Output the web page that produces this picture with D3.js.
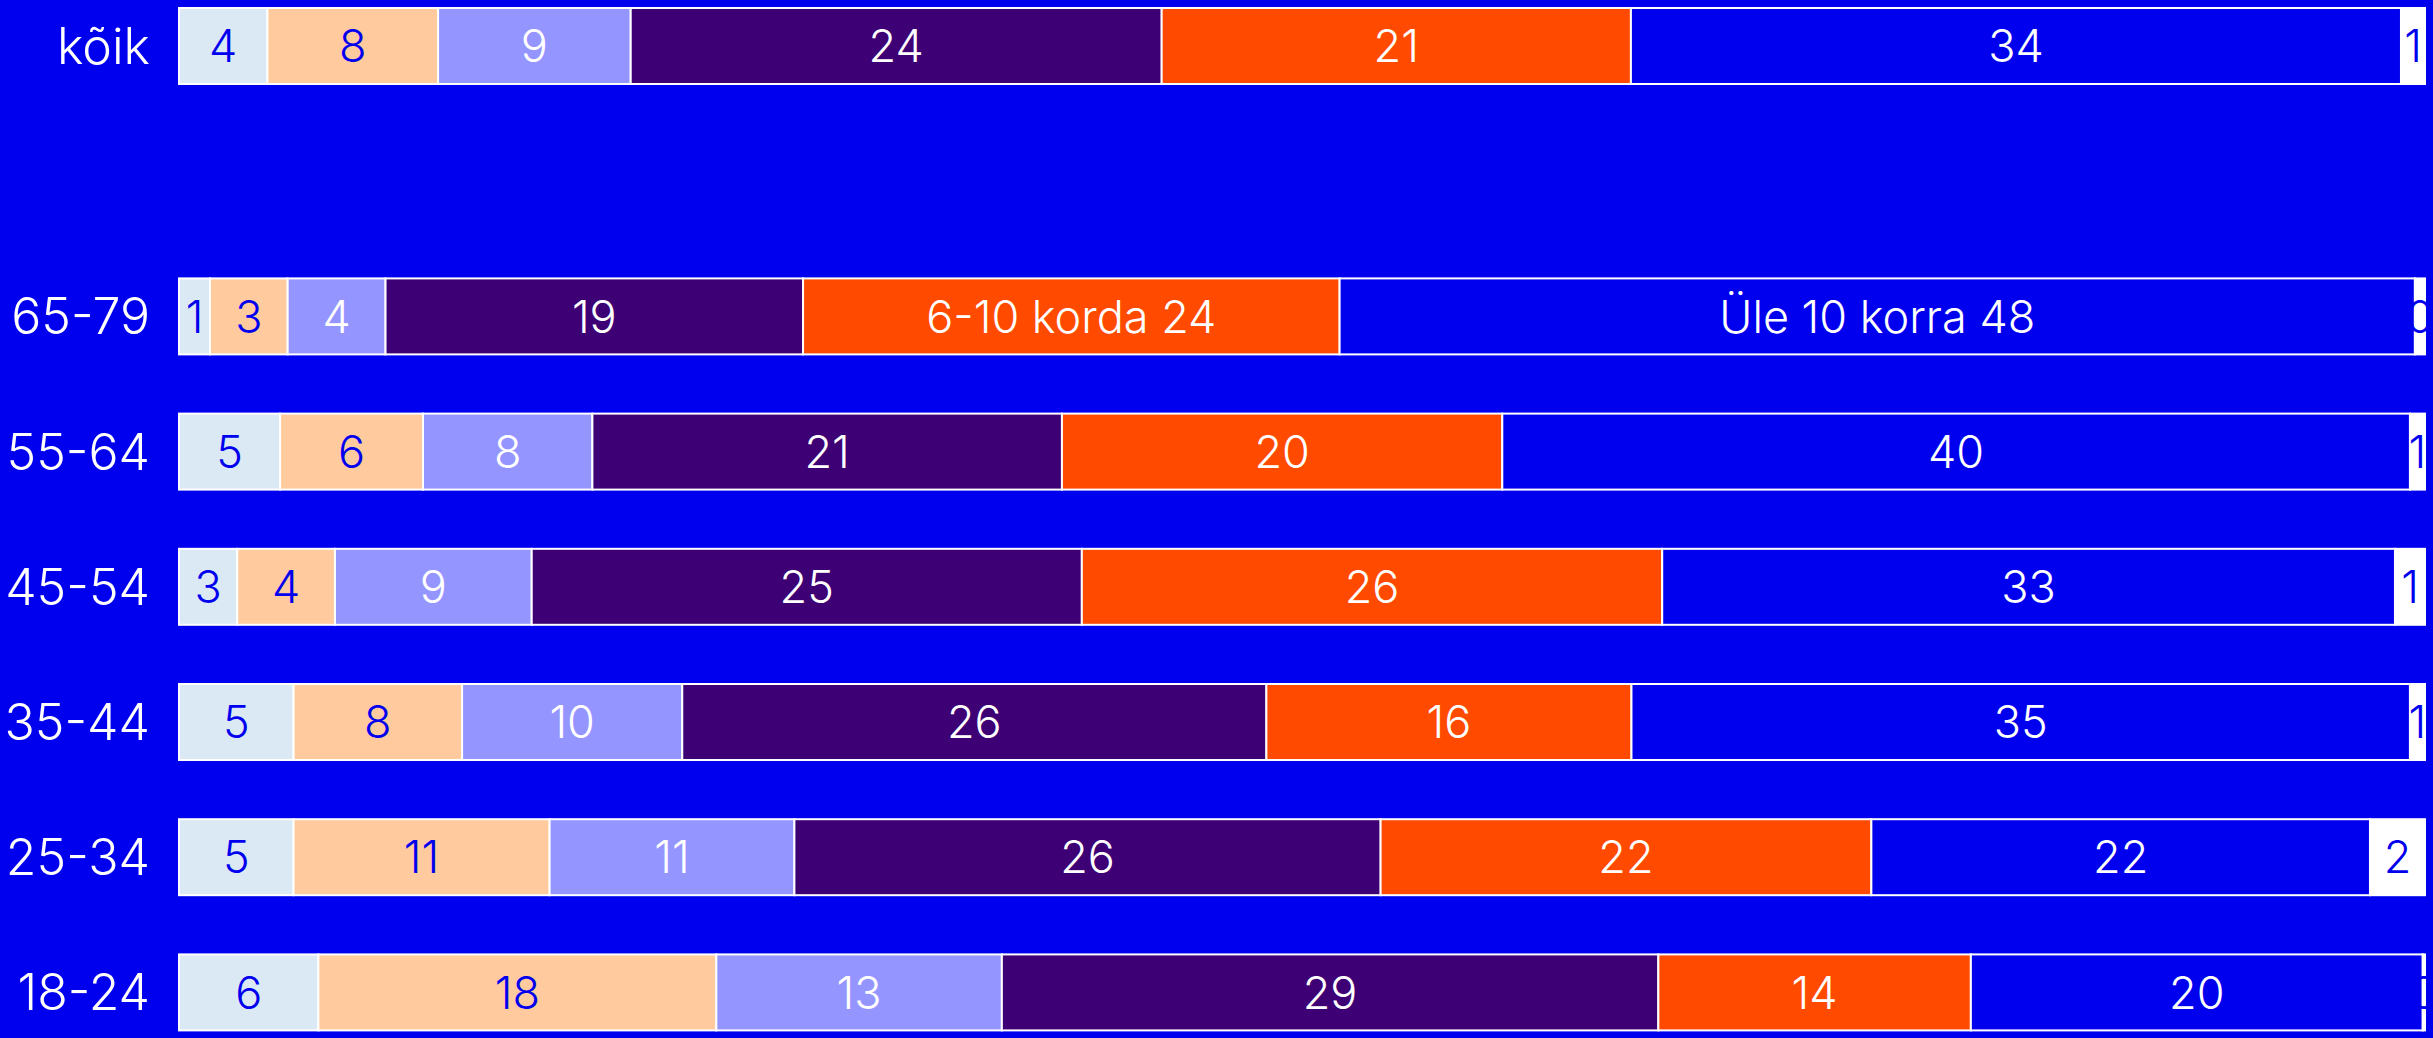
<!DOCTYPE html>
<html>
<head>
<meta charset="utf-8">
<script src="https://cdn.jsdelivr.net/npm/d3@7"></script>
<style>
  html, body { margin: 0; padding: 0; background: #0000ee; overflow: hidden; }
  svg { display: block; }
  text { font-family: "Inter", "Noto Sans", sans-serif; font-weight: 300; }
</style>
</head>
<body>
<svg id="chart" width="2433" height="1038"></svg>
<script>
// ---- data ----
const categories = ["kõik", "65-79", "55-64", "45-54", "35-44", "25-34", "18-24"];
const seriesNames = ["Mitte kordagi", "1 kord", "2-3 korda", "4-5 korda", "6-10 korda", "Üle 10 korra", "Ei oska öelda"];
const s0 = [3.94, 1.38, 4.5, 2.6, 5.1, 5.1, 6.2];
const s1 = [7.6, 3.46, 6.36, 4.36, 7.5, 11.4, 17.7];
const s2 = [8.58, 4.36, 7.54, 8.78, 9.8, 10.9, 12.7];
const s3 = [23.65, 18.6, 20.9, 24.55, 26.0, 26.1, 29.2];
const s4 = [20.9, 23.9, 19.6, 25.9, 16.25, 21.85, 13.9];
const s5 = [34.3, 47.9, 40.4, 32.7, 34.65, 22.2, 20.1];
const s6 = [1.07, 0.45, 0.67, 1.34, 0.67, 2.45, 0.1];
const seriesValues = [s0, s1, s2, s3, s4, s5, s6];
const namedRow = "65-79";
const namedSeries = [4, 5];
const rowSlots = ["kõik", "__gap", "65-79", "55-64", "45-54", "35-44", "25-34", "18-24"];

// ---- style ----
const bg = "#0000ee";
const colors = ["#dbe9f4", "#ffca9e", "#9595ff", "#3d0075", "#ff4a00", "#0000ee", "#ffffff"];
const textColors = ["#0000ee", "#0000ee", "#ffffff", "#ffffff", "#ffffff", "#ffffff", "#0000ee"];

const svg = d3.select("#chart");
svg.append("rect").attr("width", 2433).attr("height", 1038).attr("fill", bg);

const x = d3.scaleLinear().domain([0, 100]).range([179, 2425]);
const y = d3.scaleBand().domain(rowSlots).range([8, 1030.4]).paddingInner(0.438).paddingOuter(0);

// build stacked rows (normalized to 100 per row)
const rows = categories.map((cat, ci) => {
  const vals = seriesValues.map(s => s[ci]);
  const total = d3.sum(vals);
  let cum = 0;
  const segs = vals.map((v, si) => {
    const start = cum / total * 100;
    cum += v;
    const end = cum / total * 100;
    return { cat, si, value: v, start, end };
  });
  return { cat, segs };
});

const g = svg.append("g");
const rowG = g.selectAll("g.row").data(rows).join("g").attr("class", "row");

rowG.selectAll("rect").data(d => d.segs).join("rect")
  .attr("x", d => x(d.start))
  .attr("y", d => y(d.cat))
  .attr("width", d => x(d.end) - x(d.start))
  .attr("height", y.bandwidth())
  .attr("fill", d => colors[d.si])
  .attr("stroke", "#ffffff")
  .attr("stroke-width", 2);

rowG.selectAll("text.val").data(d => d.segs).join("text")
  .attr("class", "val")
  .attr("x", d => (x(d.start) + x(d.end)) / 2)
  .attr("y", d => y(d.cat) + y.bandwidth() / 2)
  .attr("dy", "0.36em")
  .attr("text-anchor", "middle")
  .attr("font-size", 45)
  .attr("fill", d => textColors[d.si])
  .text(d => (d.cat === namedRow && namedSeries.includes(d.si) ? seriesNames[d.si] + " " : "") + Math.round(d.value));

// category labels
svg.append("g").selectAll("text").data(categories).join("text")
  .attr("x", 150)
  .attr("y", d => y(d) + y.bandwidth() / 2)
  .attr("dy", "0.36em")
  .attr("text-anchor", "end")
  .attr("font-size", 50)
  .attr("fill", "#ffffff")
  .text(d => d);
</script>
</body>
</html>
